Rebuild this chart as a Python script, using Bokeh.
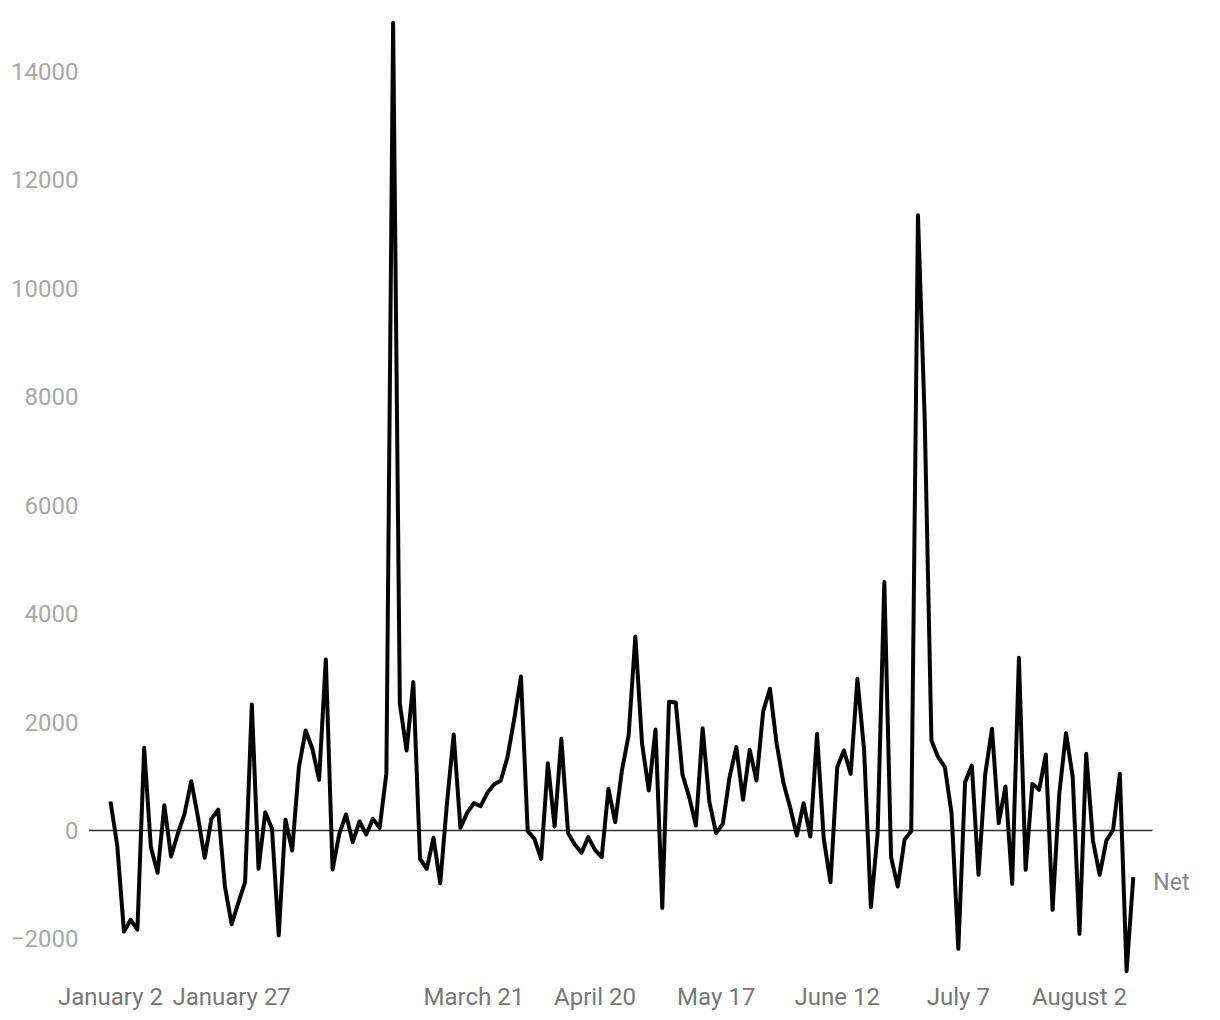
from bokeh.plotting import figure
from bokeh.models import Range1d, FixedTicker, Label
from bokeh.embed import file_html
from bokeh.resources import INLINE

series_name = "Net"
net = [
    535, -277, -1863, -1648, -1827, 1525, -307, -781, 465, -480,
    -60, 307, 910, 246, -504, 215, 384, -1030, -1728, -1330,
    -953, 2325, -707, 335, 30, -1937, 203, -369, 1168, 1845,
    1507, 935, 3155, -720, -62, 295, -215, 166, -74, 215,
    49, 1058, 14900, 2337, 1476, 2737, -523, -707, -135, -975,
    500, 1771, 49, 326, 504, 449, 695, 849, 923, 1353,
    2060, 2841, -12, -154, -523, 1242, 74, 1691, -49, -258,
    -412, -123, -357, -492, 769, 154, 1107, 1753, 3579, 1599,
    738, 1863, -1427, 2374, 2362, 1033, 615, 92, 1888, 523,
    -49, 123, 984, 1538, 566, 1488, 923, 2202, 2614, 1600,
    880, 430, -92, 504, -111, 1783, -154, -953, 1168, 1476,
    1045, 2798, 1476, -1415, -62, 4582, -492, -1033, -172, -12,
    11350, 7600, 1660, 1353, 1168, 307, -2183, 892, 1199, -818,
    1045, 1876, 135, 812, -984, 3186, -726, 861, 750, 1402,
    -1464, 677, 1796, 984, -1907, 1415, -185, -818, -185, 12,
    1045, -2595, -861,
]
tick_idx = [0, 18, 54, 72, 90, 108, 126, 144]
tick_labels = ["January 2", "January 27", "March 21", "April 20",
               "May 17", "June 12", "July 7", "August 2"]
y_ticks = [-2000, 0, 2000, 4000, 6000, 8000, 10000, 12000, 14000]

x = list(range(len(net)))

# layout paddings (in index units) around the data
pad_left = 3.27
pad_right_axis = 2.85
pad_right_frame = 11.77

x_start = x[0] - pad_left
x_end = x[-1] + pad_right_frame

p = figure(width=1212, height=1016, output_backend="svg", toolbar_location=None,
           x_range=Range1d(x_start, x_end), y_range=Range1d(-2675, 15311),
           min_border_left=88, min_border_right=0, min_border_top=0,
           min_border_bottom=41)
p.outline_line_color = None
p.grid.visible = False
p.background_fill_color = "white"

# zero baseline
p.segment(x0=[x_start], y0=[0], x1=[x[-1] + pad_right_axis], y1=[0],
          line_color="#333333", line_width=1.5)

p.line(x, net, line_color="#050505", line_width=4, line_join="round")

p.add_layout(Label(x=x[-1], y=net[-1], text=series_name, x_offset=20, y_offset=-5,
                   text_baseline="middle", text_font="Roboto", text_font_size="23px",
                   text_color="#888888"))

xa = p.xaxis[0]
xa.ticker = FixedTicker(ticks=tick_idx)
xa.major_label_overrides = {i: l for i, l in zip(tick_idx, tick_labels)}
xa.axis_line_color = None
xa.major_tick_line_color = None
xa.minor_tick_line_color = None
xa.major_label_text_font = "Roboto"
xa.major_label_text_font_size = "24px"
xa.major_label_text_color = "#777777"
xa.major_label_standoff = 1

ya = p.yaxis[0]
ya.ticker = FixedTicker(ticks=y_ticks)
ya.major_label_overrides = {t: (("\u2212" + str(-t)) if t < 0 else str(t)) for t in y_ticks}
ya.axis_line_color = None
ya.major_tick_line_color = None
ya.minor_tick_line_color = None
ya.major_label_text_font = "Roboto"
ya.major_label_text_font_size = "24px"
ya.major_label_text_color = "#a8a8a8"
ya.major_label_standoff = 4

open("out.html", "w").write(file_html(p, INLINE))
